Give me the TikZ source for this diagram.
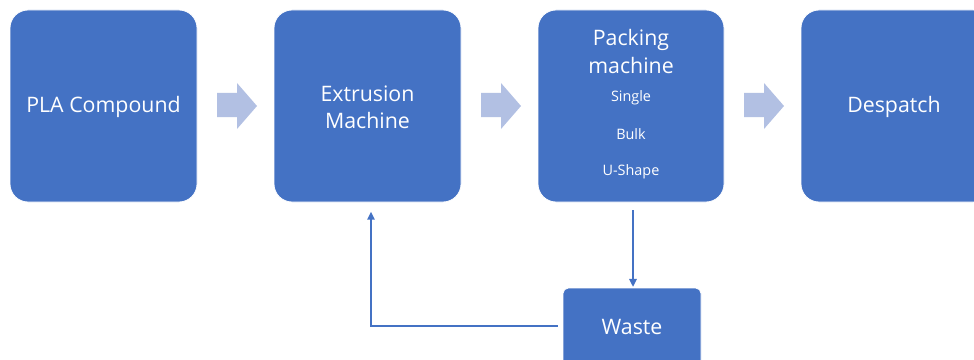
\documentclass[tikz,border=0pt]{standalone}
\usepackage{fontspec}
\setmainfont{Open Sans}
\usetikzlibrary{arrows.meta}
\definecolor{boxblue}{RGB}{68,114,196}
\definecolor{lightarrow}{RGB}{178,192,227}
\begin{document}
\begin{tikzpicture}[x=0.75pt,y=-0.75pt,
  stagebox/.style={fill=boxblue,draw=white,line width=0.6pt,rounded corners=13.5pt,inner sep=0pt},
  smalltext/.style={text=white,inner sep=0pt,font=\fontsize{10.8}{13}\selectfont},
  bigtext/.style={text=white,inner sep=0pt,align=center,font=\fontsize{16}{20.5}\selectfont},
  blockarrow/.style={fill=lightarrow},
  conn/.style={draw=boxblue,line width=1.8pt,-{Triangle[length=6pt,width=5.5pt]}}]
\useasboundingbox (0,0) rectangle (974,360);
% boxes
\node[stagebox,minimum width=187*0.75pt,minimum height=192*0.75pt] (pla) at (103.5,106) {};
\node[stagebox,minimum width=187*0.75pt,minimum height=192*0.75pt] (ext) at (367.5,106) {};
\node[stagebox,minimum width=186*0.75pt,minimum height=192*0.75pt] (pack) at (631,106) {};
\node[stagebox,minimum width=190*0.75pt,minimum height=192*0.75pt] (desp) at (896,106) {};
\node[stagebox,rounded corners=4pt,minimum width=138*0.75pt,minimum height=110*0.75pt] (waste) at (632,343) {};
% texts
\node[bigtext] (plat) at (103.5,106.5) {PLA Compound};
\node[bigtext] (extt) at (367.5,107) {Extrusion\\Machine};
\node[bigtext] (packt) at (631,51.5) {Packing\\machine};
\node[smalltext] (single) at (631,97.5) {Single};
\node[smalltext] (bulk) at (631,134.5) {Bulk};
\node[smalltext] (ushape) at (631,171.5) {U-Shape};
\node[bigtext] (despt) at (894,106.5) {Despatch};
\node[bigtext] (wastet) at (632,327) {Waste};
% block arrows
\fill[blockarrow] (217,93) -- (237,93) -- (237,83) -- (257,106) -- (237,129) -- (237,117) -- (217,117) -- cycle;
\fill[blockarrow] (481,93) -- (501,93) -- (501,83) -- (521,106) -- (501,129) -- (501,117) -- (481,117) -- cycle;
\fill[blockarrow] (744,93) -- (764,93) -- (764,83) -- (784,106) -- (764,129) -- (764,117) -- (744,117) -- cycle;
% connectors
\draw[conn,shorten <=6pt,shorten >=0.5pt] (pack.south -| 633,0) -- (waste.north -| 633,0);
\draw[conn,shorten >=7pt] ([xshift=-5*0.75pt]waste.west |- 0,326) -| (ext.south -| 371,0);
\end{tikzpicture}
\end{document}
